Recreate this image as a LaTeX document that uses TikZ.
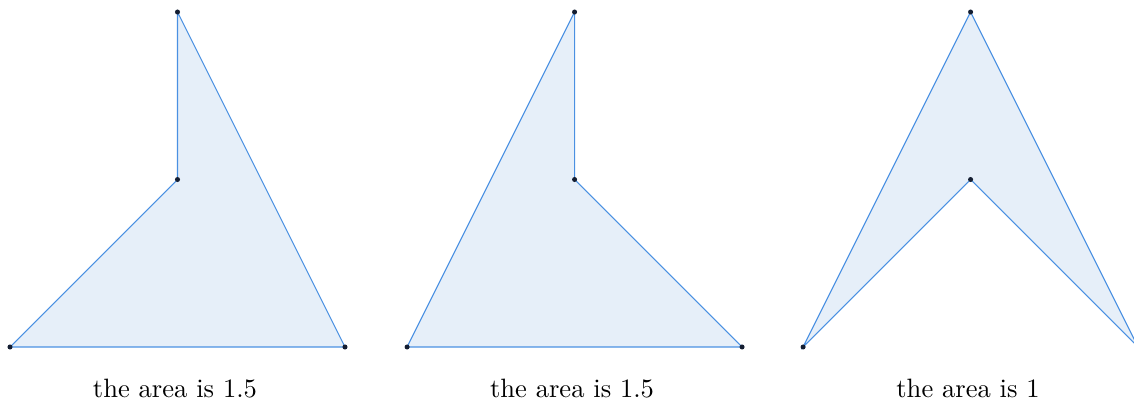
\documentclass[tikz,border=0pt]{standalone}
\begin{document}
\begin{tikzpicture}[x=63.06pt,y=63.06pt,
  poly/.style={draw=edgeblue,fill=fillblue,line width=0.4pt,line join=miter},
  vdot/.style={circle,fill=dotcol,inner sep=0pt,minimum size=1.9pt},
  captext/.style={anchor=base,font=\normalsize}]
\definecolor{edgeblue}{RGB}{74,144,226}
\definecolor{fillblue}{RGB}{230,239,249}
\definecolor{dotcol}{RGB}{20,30,50}
\useasboundingbox[clip] (-3.77pt,-21.08pt) rectangle (423.2pt,130.65pt);
% polygon 1
\begin{scope}
\coordinate (a1) at (0,0); \coordinate (b1) at (2,0);
\coordinate (c1) at (1,2); \coordinate (d1) at (1,1);
\path[poly] (a1) -- (b1) -- (c1) -- (d1) -- cycle;
\foreach \p in {a1,b1,c1,d1} \node[vdot] at (\p) {};
\node[captext] (t1) at (0.985,-19.2pt) {the area is 1.5};
\end{scope}
% polygon 2
\begin{scope}[xshift=149.5pt]
\coordinate (a2) at (0,0); \coordinate (b2) at (2,0);
\coordinate (c2) at (1,1); \coordinate (d2) at (1,2);
\path[poly] (a2) -- (b2) -- (c2) -- (d2) -- cycle;
\foreach \p in {a2,b2,c2,d2} \node[vdot] at (\p) {};
\node[captext] (t2) at (0.985,-19.2pt) {the area is 1.5};
\end{scope}
% polygon 3
\begin{scope}[xshift=298.6pt]
\coordinate (a3) at (0,0); \coordinate (b3) at (1,2);
\coordinate (c3) at (2,0); \coordinate (d3) at (1,1);
\path[poly] (a3) -- (b3) -- (c3) -- (d3) -- cycle;
\foreach \p in {a3,b3,c3,d3} \node[vdot] at (\p) {};
\node[captext] (t3) at (0.985,-19.2pt) {the area is 1};
\end{scope}
\end{tikzpicture}
\end{document}
